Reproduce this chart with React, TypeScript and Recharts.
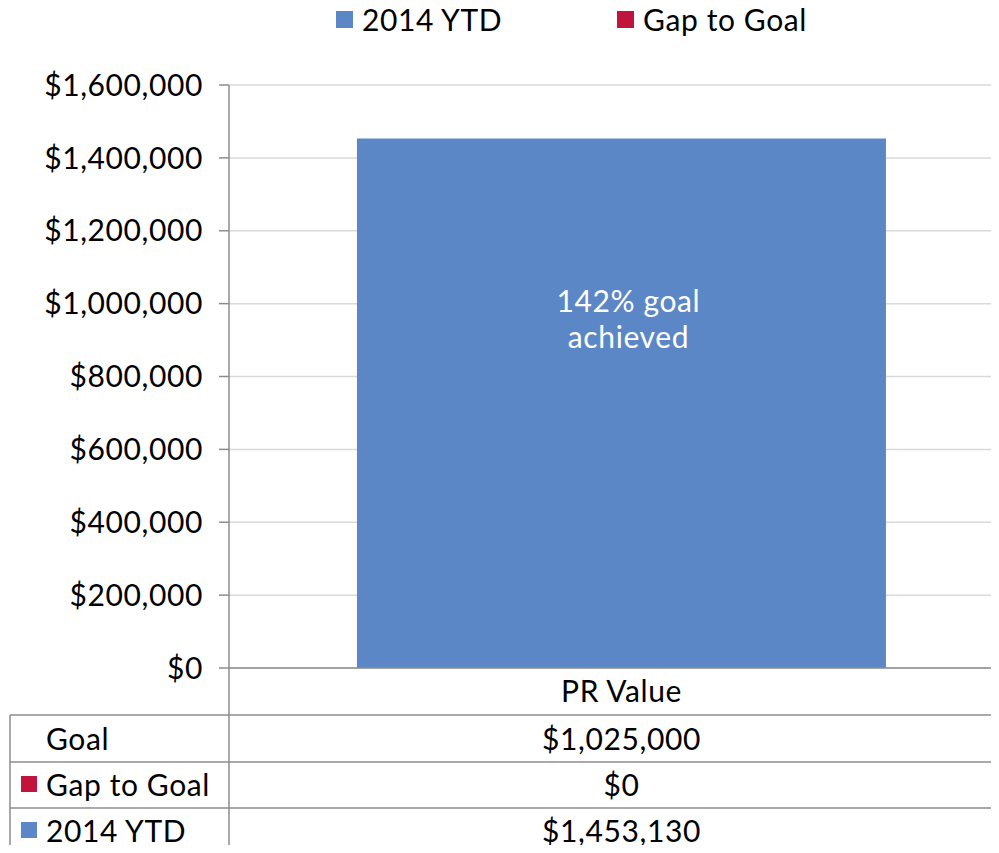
import { BarChart, Bar, XAxis, YAxis, CartesianGrid, Legend, LabelList } from 'recharts';

const categories = ['PR Value'];
const ytdValues = [1453130];
const gapValues = [0];
const goalValues = [1025000];
const yTicks = [0, 200000, 400000, 600000, 800000, 1000000, 1200000, 1400000, 1600000];

const BLUE = '#5B87C6';
const RED = '#C0143C';
const GRID = '#D9D9D9';
const AXIS = '#8C8C8C';
const FONT = 'Lato, "Noto Sans", sans-serif';
const FS = 30;
const LS = 0.6;

const CHART_W = 1014;
const CHART_H = 853;
const PLOT_BOTTOM = 668;
const TABLE_LEFT = 10;
const AXIS_X = 229;
const ROW_LINES = [715, 762, 808];

const data = categories.map((c, i) => ({
  name: c,
  ytd: ytdValues[i],
  gap: gapValues[i],
  goal: goalValues[i],
}));

const money = (v: number) => '$' + v.toLocaleString('en-US');

const tableRows = [
  { label: 'Goal', color: null as string | null, values: goalValues },
  { label: 'Gap to Goal', color: RED, values: gapValues },
  { label: '2014 YTD', color: BLUE, values: ytdValues },
];

// eslint-disable-next-line @typescript-eslint/no-explicit-any
function TableTick({ x, payload }: any) {
  const i = payload.index;
  return (
    <g fontFamily={FONT} fontSize={FS} letterSpacing={LS} fill="#000">
      {/* table grid */}
      <line x1={AXIS_X} y1={PLOT_BOTTOM} x2={AXIS_X} y2={CHART_H} stroke={AXIS} strokeWidth={1.5} />
      <line x1={TABLE_LEFT} y1={ROW_LINES[0]} x2={TABLE_LEFT} y2={CHART_H} stroke={AXIS} strokeWidth={1.5} />
      {ROW_LINES.map(y => (
        <line key={y} x1={TABLE_LEFT} y1={y} x2={CHART_W} y2={y} stroke={AXIS} strokeWidth={1.5} />
      ))}
      <text x={x} y={690} textAnchor="middle" dominantBaseline="central">{payload.value}</text>
      {tableRows.map((r, k) => {
        const top = ROW_LINES[k];
        const bottom = ROW_LINES[k + 1] ?? CHART_H + 1;
        const cy = (top + bottom) / 2 - 1;
        return (
          <g key={r.label}>
            {r.color && <rect x={21} y={cy - 8} width={16} height={16} fill={r.color} />}
            <text x={46} y={cy} dominantBaseline="central">{r.label}</text>
            <text x={x} y={cy} textAnchor="middle" dominantBaseline="central">{money(r.values[i])}</text>
          </g>
        );
      })}
    </g>
  );
}

// eslint-disable-next-line @typescript-eslint/no-explicit-any
function GoalLabel({ x, y, width, index }: any) {
  const pct = Math.round((ytdValues[index] / goalValues[index]) * 100);
  const cx = x + width / 2 + 7;
  return (
    <g fontFamily={FONT} fontSize={FS} letterSpacing={LS} fill="#fff" textAnchor="middle">
      <text x={cx} y={y + 161} dominantBaseline="central">{pct}% goal</text>
      <text x={cx} y={y + 197} dominantBaseline="central">achieved</text>
    </g>
  );
}

function LegendContent() {
  const items = [
    { label: '2014 YTD', color: BLUE, left: 336 },
    { label: 'Gap to Goal', color: RED, left: 617 },
  ];
  return (
    <div style={{ position: 'relative', height: 40, fontFamily: FONT, fontSize: FS, letterSpacing: LS, color: '#000' }}>
      {items.map(it => (
        <div key={it.label} style={{ position: 'absolute', left: it.left, top: 0, height: 38, display: 'flex', alignItems: 'center' }}>
          <span style={{ width: 17, height: 17, background: it.color, display: 'inline-block', marginRight: 9 }} />
          <span>{it.label}</span>
        </div>
      ))}
    </div>
  );
}

export default function App() {
  return (
    <div style={{ margin: -8, width: 999, height: 853, overflow: 'hidden', background: '#fff' }}>
      <BarChart
        width={CHART_W}
        height={CHART_H}
        data={data}
        margin={{ top: 45, right: 0, left: 0, bottom: 0 }}
        barCategoryGap="16.3%"
      >
        <CartesianGrid vertical={false} stroke={GRID} strokeWidth={1.5} />
        <Legend verticalAlign="top" height={40} wrapperStyle={{ top: 0, left: 0, width: CHART_W }} content={<LegendContent />} />
        <XAxis
          dataKey="name"
          height={CHART_H - PLOT_BOTTOM}
          axisLine={{ stroke: AXIS, strokeWidth: 1.5 }}
          tickLine={false}
          tick={<TableTick />}
          interval={0}
        />
        <YAxis
          width={AXIS_X}
          domain={[0, 1600000]}
          ticks={yTicks}
          tickFormatter={money}
          axisLine={{ stroke: AXIS, strokeWidth: 1.5 }}
          tickLine={{ stroke: AXIS, strokeWidth: 1.5 }}
          tickSize={10}
          tickMargin={16}
          tick={{ fill: '#000', fontSize: FS, fontFamily: FONT, letterSpacing: LS }}
        />
        <Bar dataKey="ytd" stackId="a" fill={BLUE} isAnimationActive={false}>
          <LabelList content={<GoalLabel />} />
        </Bar>
        <Bar dataKey="gap" stackId="a" fill={RED} isAnimationActive={false} />
      </BarChart>
    </div>
  );
}
